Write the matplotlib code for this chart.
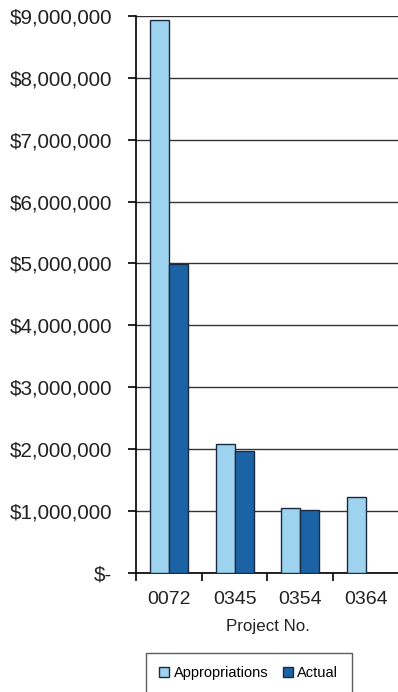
import matplotlib.pyplot as plt
import numpy as np
from matplotlib.ticker import FuncFormatter

plt.rcParams['font.family'] = ['Liberation Sans', 'DejaVu Sans']

projects = ["0072", "0345", "0354", "0364"]
appropriations = [8940000, 2080000, 1050000, 1220000]
actual = [4990000, 1970000, 1010000, None]

fig = plt.figure(figsize=(3.98, 6.92), dpi=100)
ax = fig.add_axes([0.342, 0.172, 0.66, 0.805])

x = np.arange(len(projects))
w = 0.29
ax.bar(x - w / 2, appropriations, width=w, color="#9dd3ee", edgecolor="#1a2a40",
       linewidth=1.0, label="Appropriations", zorder=3)
act_x = [xi + w / 2 for xi, v in zip(x, actual) if v is not None]
act_v = [v for v in actual if v is not None]
ax.bar(act_x, act_v, width=w, color="#1c63a6", edgecolor="#1a2a40",
       linewidth=1.0, label="Actual", zorder=3)

ax.set_xlim(-0.5, len(projects) - 0.5)
ax.set_ylim(0, 9000000)
ax.set_yticks(np.arange(0, 9000001, 1000000))


def money(v, pos):
    if v == 0:
        return "$-"
    return "${:,.0f}".format(v)


ax.yaxis.set_major_formatter(FuncFormatter(money))
ax.yaxis.grid(True, color="#333333", linewidth=1.0, zorder=0)

# category boundaries as ticks, labels at centres
ax.set_xticks(np.arange(-0.5, len(projects), 1.0))
ax.set_xticklabels([])
ax.set_xticks(x, minor=True)
ax.set_xticklabels(projects, minor=True, fontsize=14)
ax.tick_params(axis="x", which="minor", length=0, pad=13, labelcolor="#222222")
ax.tick_params(axis="x", which="major", length=6, width=1.2, direction="out")
ax.tick_params(axis="y", length=6, width=1.2, pad=11, labelsize=14.9,
               labelcolor="#222222")

for s in ["top", "right"]:
    ax.spines[s].set_visible(False)
ax.spines["left"].set_linewidth(1.2)
ax.spines["bottom"].set_linewidth(1.2)

ax.set_xlabel("Project No.", fontsize=12.2, labelpad=8, color="#222222")

fig.legend(loc="center", bbox_to_anchor=(0.625, 0.027), ncol=2, fontsize=10.5,
           frameon=True, fancybox=False, edgecolor="#333333",
           handlelength=0.7, handleheight=0.7, handletextpad=0.3,
           columnspacing=1.0, borderpad=0.9)

fig.savefig("out.png", dpi=100)
